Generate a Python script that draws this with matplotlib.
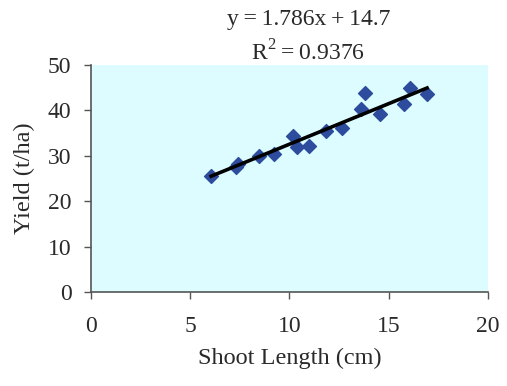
import matplotlib
matplotlib.use("Agg")
import matplotlib.pyplot as plt
import numpy as np

# Shoot length (cm) vs. yield (t/ha)
shoot_length = [6.05, 7.3, 7.42, 8.44, 9.2, 10.16, 10.38, 10.98, 11.84, 12.64,
                13.6, 13.82, 14.56, 15.78, 16.08, 16.93]
yield_tha = [25.6, 27.6, 28.3, 30.0, 30.5, 34.4, 31.9, 32.1, 35.4, 36.1,
             40.2, 43.9, 39.2, 41.5, 45.0, 43.7]

# Linear fit reported on the chart
slope = 1.786
intercept = 14.7
r_squared = 0.9376

x_ticks = [0, 5, 10, 15, 20]
y_ticks = [0, 10, 20, 30, 40, 50]

plt.rcParams['font.family'] = ['Liberation Serif', 'DejaVu Serif']
plt.rcParams['mathtext.fontset'] = 'custom'
plt.rcParams['mathtext.rm'] = 'Liberation Serif'

fig = plt.figure(figsize=(5.07, 3.86), dpi=100)
ax = fig.add_axes([0.1795, 0.2435, 0.7830, 0.5881])
ax.set_facecolor('#DDFCFF')

ax.scatter(shoot_length, yield_tha, marker='D', s=50, color='#2E4C9E',
           edgecolors='#2E4C9E', zorder=3)

fit_x = np.array([min(shoot_length), max(shoot_length)])
ax.plot(fit_x, slope * fit_x + intercept, color='black', lw=2.6, zorder=4)

ax.set_xlim(0, 20)
ax.set_ylim(0, 50)
ax.set_xticks(x_ticks)
ax.set_yticks(y_ticks)
ax.tick_params(axis='both', direction='out', length=5, width=1,
               color='#555555', labelsize=17, labelcolor='#2a2a2a')
ax.tick_params(axis='x', pad=12)
ax.tick_params(axis='y', pad=9)
for side in ('top', 'right'):
    ax.spines[side].set_visible(False)
for side in ('left', 'bottom'):
    ax.spines[side].set_color('#555555')
    ax.spines[side].set_linewidth(1.2)

ax.set_xlabel('Shoot Length (cm)', fontsize=17.5, color='#2a2a2a', labelpad=8)
ax.set_ylabel('Yield (t/ha)', fontsize=17.5, color='#2a2a2a', labelpad=9)

thin = '\u2009'
fig.text(0.608, 0.950, f'y{thin}={thin}{slope}x{thin}+{thin}{intercept}',
         ha='center', va='center', fontsize=17, color='#2a2a2a')
fig.text(0.608, 0.862, f'R$^{{2}}${thin}={thin}{r_squared}', ha='center',
         va='center', fontsize=17, color='#2a2a2a')

fig.savefig('out.png', dpi=100, facecolor='white')
